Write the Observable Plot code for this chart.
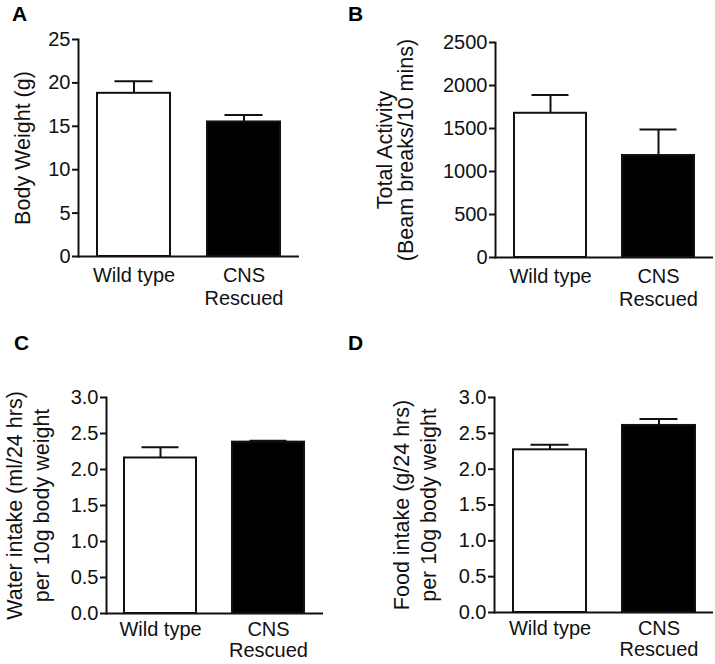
<!DOCTYPE html>
<html>
<head>
<meta charset="utf-8">
<script src="https://cdn.jsdelivr.net/npm/d3@7"></script>
<script src="https://cdn.jsdelivr.net/npm/@observablehq/plot@0.6"></script>
<style>
  html, body { margin: 0; padding: 0; background: #fff; }
  #fig { position: relative; width: 715px; height: 664px; font-family: "Liberation Sans", Arial, Helvetica, sans-serif; }
  .panel { position: absolute; }
  .letter { position: absolute; font-weight: bold; font-size: 21px; line-height: 1; color: #000; }
</style>
</head>
<body>
<div id="fig"></div>
<script>
// ---- Data ----
const groups = ["Wild type", "CNS Rescued"];
const fills = ["white", "black"];

const bodyWeightMean = [18.8, 15.5];
const bodyWeightSem = [1.4, 0.8];
const bodyWeightTicks = [0, 5, 10, 15, 20, 25];

const activityMean = [1677, 1186];
const activitySem = [213, 302];
const activityTicks = [0, 500, 1000, 1500, 2000, 2500];

const waterMean = [2.16, 2.38];
const waterSem = [0.15, 0.02];
const intakeTicks = [0, 0.5, 1.0, 1.5, 2.0, 2.5, 3.0];

const foodMean = [2.27, 2.61];
const foodSem = [0.07, 0.09];

const panelLetters = ["A", "B", "C", "D"];
const yLabels = [
  "Body Weight (g)",
  "Total Activity\n(Beam breaks/10 mins)",
  "Water intake (ml/24 hrs)\nper 10g body weight",
  "Food intake (g/24 hrs)\nper 10g body weight"
];

// ---- Layout (positions/sizes only) ----
const panels = [
  {mean: bodyWeightMean, sem: bodyWeightSem, ticks: bodyWeightTicks, fmt: d3.format("d"),
   left: 0, top: 0, width: 357, height: 330, ml: 78, mt: 39, mr: 58, mb: 74, labelDx: -55, lineHeight: 1.0,
   xPad: 9, xLine: 1.15, letterX: 12, letterY: 3},
  {mean: activityMean, sem: activitySem, ticks: activityTicks, fmt: d3.format("d"),
   left: 357, top: 0, width: 358, height: 330, ml: 138, mt: 42, mr: 2, mb: 73, labelDx: -100, lineHeight: 1.0,
   xPad: 9, xLine: 1.15, letterX: 348, letterY: 3},
  {mean: waterMean, sem: waterSem, ticks: intakeTicks, fmt: d3.format(".1f"),
   left: 0, top: 330, width: 357, height: 334, ml: 106, mt: 67, mr: 34, mb: 51, labelDx: -80, lineHeight: 1.27,
   xPad: 7, xLine: 1.08, letterX: 14, letterY: 332},
  {mean: foodMean, sem: foodSem, ticks: intakeTicks, fmt: d3.format(".1f"),
   left: 357, top: 330, width: 358, height: 334, ml: 137, mt: 67, mr: 2, mb: 52, labelDx: -81, lineHeight: 1.27,
   xPad: 7, xLine: 1.08, letterX: 348, letterY: 332}
];

const fig = document.getElementById("fig");

panels.forEach((p, i) => {
  const data = groups.map((g, j) => ({group: g, mean: p.mean[j], sem: p.sem[j], fill: fills[j]}));
  const yMax = p.ticks[p.ticks.length - 1];
  const chart = Plot.plot({
    width: p.width,
    height: p.height,
    marginLeft: p.ml,
    marginTop: p.mt,
    marginRight: p.mr,
    marginBottom: p.mb,
    style: {fontFamily: '"Liberation Sans", Arial, Helvetica, sans-serif', fontSize: "20px", color: "#111", background: "white", overflow: "visible"},
    x: {domain: groups, paddingInner: 0.333, paddingOuter: 0.17, label: null},
    y: {domain: [0, yMax], label: null},
    marks: [
      Plot.barY(data, {x: "group", y: "mean", fill: "fill", stroke: "#111", strokeWidth: 2}),
      Plot.ruleX(data, {x: "group", y1: "mean", y2: d => d.mean + d.sem, stroke: "#111", strokeWidth: 2}),
      Plot.tickY(data, {x: "group", y: d => d.mean + d.sem, stroke: "#111", strokeWidth: 2, insetLeft: 17.5, insetRight: 17.5}),
      Plot.ruleY([0], {stroke: "#111", strokeWidth: 2}),
      Plot.frame({anchor: "left", stroke: "#111", strokeWidth: 2}),
      Plot.axisY({ticks: p.ticks, tickFormat: p.fmt, tickSize: 6, tickPadding: 2, strokeWidth: 2, fontSize: 20, label: null}),
      Plot.axisX({tickSize: 0, tickPadding: p.xPad, fontSize: 20, label: null, lineHeight: p.xLine,
                  tickFormat: d => d.replace("CNS ", "CNS\n")}),
      Plot.text([yLabels[i]], {frameAnchor: "left", rotate: -90, dx: p.labelDx, fontSize: 21.5,
                               textAnchor: "middle", lineAnchor: "middle", lineHeight: p.lineHeight, fill: "#111"})
    ]
  });
  const wrap = document.createElement("div");
  wrap.className = "panel";
  wrap.style.left = p.left + "px";
  wrap.style.top = p.top + "px";
  wrap.appendChild(chart);
  fig.appendChild(wrap);

  const letter = document.createElement("div");
  letter.className = "letter";
  letter.textContent = panelLetters[i];
  letter.style.left = p.letterX + "px";
  letter.style.top = p.letterY + "px";
  fig.appendChild(letter);
});
</script>
</body>
</html>
